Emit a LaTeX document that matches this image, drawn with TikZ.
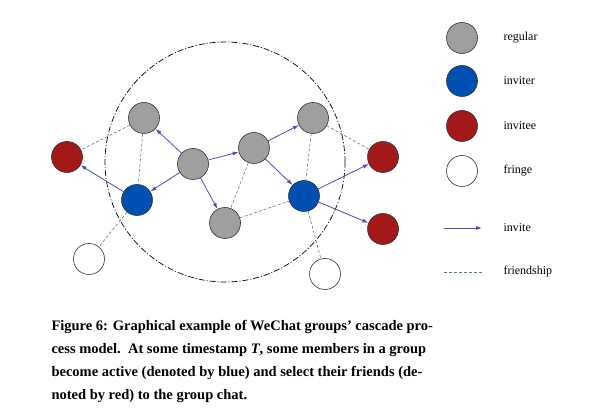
\documentclass[tikz,border=0pt]{standalone}
\usepackage{fontspec}
\setmainfont{Liberation Serif}
\usetikzlibrary{arrows.meta}
\begin{document}
\begin{tikzpicture}[x=1pt,y=-1pt,
  nd/.style={circle,draw=black!80,line width=0.6pt,minimum size=31pt,inner sep=0pt},
  reg/.style={nd,fill=gray!75},
  inv/.style={nd,fill=blue!55!cyan!70!black},
  iee/.style={nd,fill=red!60!black!90},
  fr/.style={nd,fill=white},
  ar/.style={-{Latex[length=6pt,width=4pt]},draw=blue!40!gray,line width=0.8pt},
  fd/.style={draw=teal!40!gray,line width=0.6pt,dash pattern=on 3pt off 2pt},
  lab/.style={anchor=west,font=\fontsize{12}{14}\selectfont},
  captxt/.style={anchor=west,font=\fontsize{14.5}{16}\selectfont\bfseries}]
\useasboundingbox (0,0) rectangle (600,419);
\draw[dash pattern=on 6pt off 2pt on 1pt off 2pt,line width=0.7pt] (225,162) circle (120);
\node[reg] (r1) at (144,118) {};
\node[iee] (el) at (67,157) {};
\node[inv] (bl) at (137,200) {};
\node[reg] (c) at (193,164) {};
\node[reg] (m) at (254,148) {};
\node[reg] (tr) at (313,118) {};
\node[reg] (b) at (225,223) {};
\node[inv] (br) at (304,196) {};
\node[iee] (e1) at (383,157) {};
\node[iee] (e2) at (383,229) {};
\node[fr] (wl) at (89,259) {};
\node[fr] (wr) at (325,274) {};
\foreach \a/\b in {r1/el,r1/bl,tr/e1,tr/br,m/b,b/br,bl/wl,br/wr} \draw[fd] (\a)--(\b);
\foreach \a/\b in {c/r1,c/bl,c/m,c/b,bl/el,m/tr,m/br,br/e1,br/e2} \draw[ar] (\a)--(\b);
% legend
\node[reg] (lg1) at (462,38) {}; \node[lab] (lt1) at (500,38) {regular};
\node[inv] (lg2) at (462,81) {}; \node[lab] (lt2) at (500,81) {inviter};
\node[iee] (lg3) at (462,126) {}; \node[lab] (lt3) at (500,126) {invitee};
\node[fr] (lg4) at (462,171) {}; \node[lab] (lt4) at (500,171) {fringe};
\coordinate (a1) at (444,228); \coordinate (a2) at (482,228);
\draw[ar] (a1)--(a2); \node[lab] (lt5) at (500,228) {invite};
\coordinate (f1) at (444,272); \coordinate (f2) at (482,272);
\draw[fd] (f1)--(f2); \node[lab] (lt6) at (500,272) {friendship};
% caption
\node[captxt] (c1) at (48,327) {Figure 6: Graphical example of WeChat groups’ cascade pro-};
\node[captxt] (c2) at (48,350) {cess model.\ \ At some timestamp \textit{T}, some members in a group};
\node[captxt] (c3) at (48,373) {become active (denoted by blue) and select their friends (de-};
\node[captxt] (c4) at (48,396) {noted by red) to the group chat.};
\end{tikzpicture}
\end{document}
